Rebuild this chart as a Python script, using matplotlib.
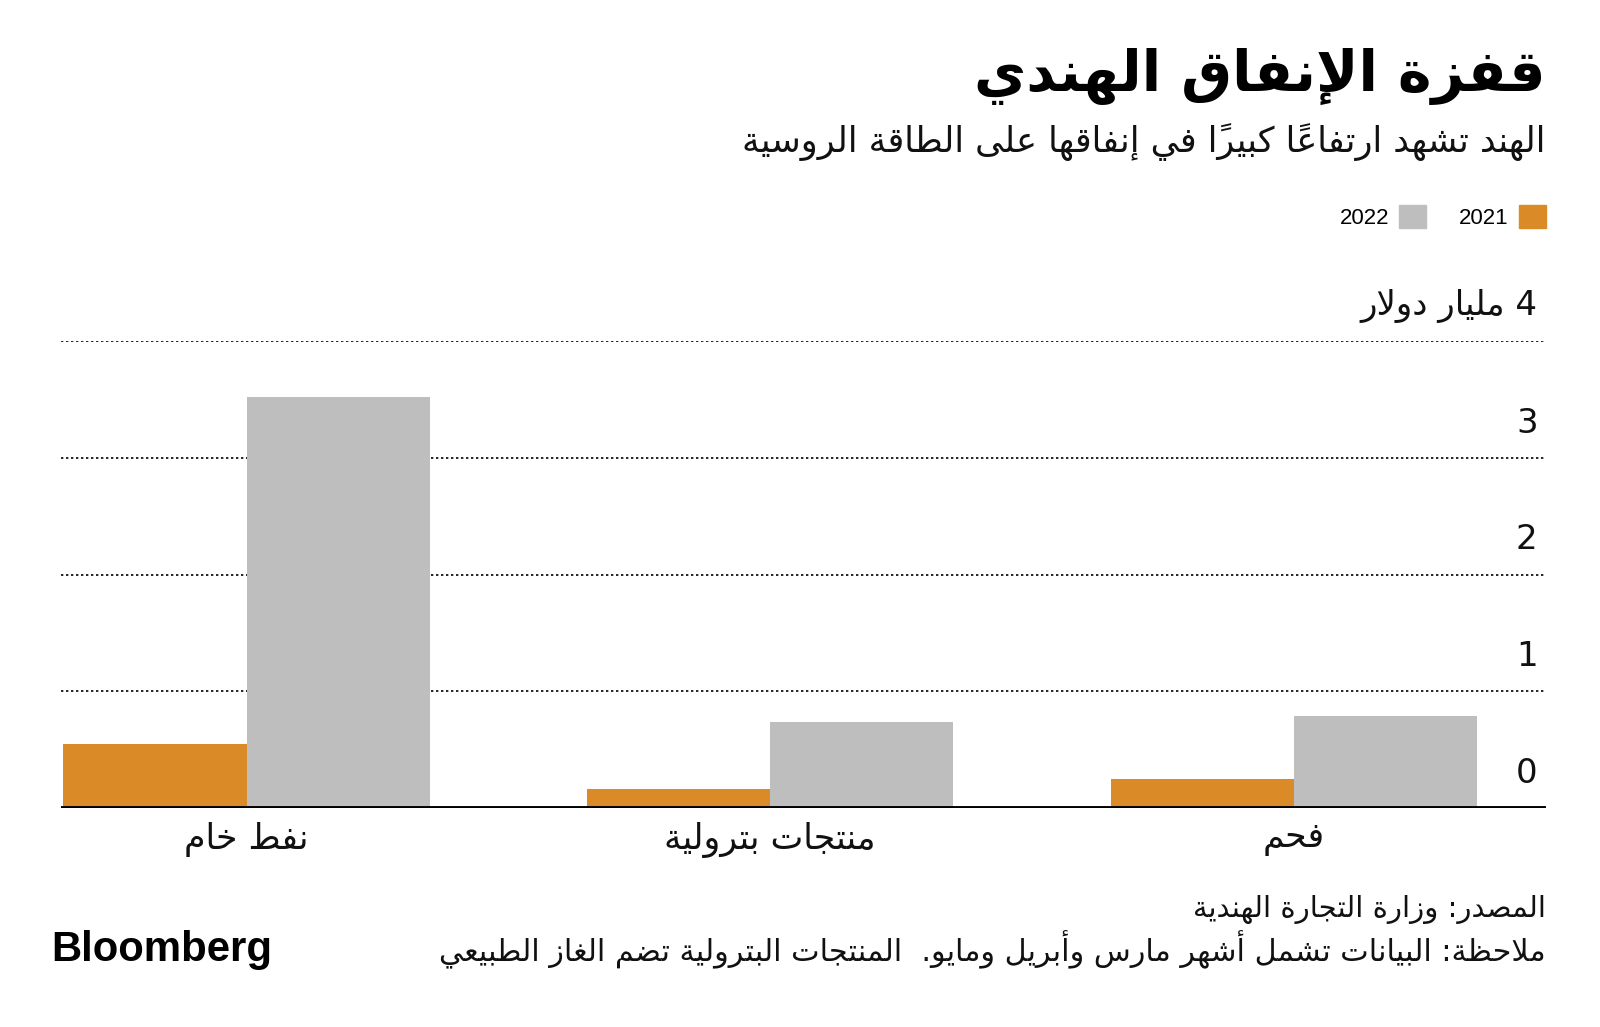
import matplotlib
matplotlib.use("Agg")
import matplotlib.pyplot as plt
from matplotlib.patches import Patch
from matplotlib.transforms import blended_transform_factory

# ---------------- data ----------------
categories = ["نفط خام", "منتجات بترولية", "فحم"]
series_names = ["2021", "2022"]
values_2021 = [0.55, 0.16, 0.25]
values_2022 = [3.52, 0.74, 0.79]
y_ticks = [0, 1, 2, 3, 4]
y_tick_labels = ["0", "1", "2", "3", "4 مليار دولار"]
title = "قفزة الإنفاق الهندي"
subtitle = "الهند تشهد ارتفاعاً كبيراً في إنفاقها على الطاقة الروسية"
source = "المصدر: وزارة التجارة الهندية"
note = "ملاحظة: البيانات تشمل أشهر مارس وأبريل ومايو.  المنتجات البترولية تضم الغاز الطبيعي"
logo = "Bloomberg"

# ---------------- Arabic shaping (contextual forms + RTL visual order) ----------------
DUAL = {'ئ': 0xFE89, 'ب': 0xFE8F, 'ت': 0xFE95, 'ث': 0xFE99, 'ج': 0xFE9D, 'ح': 0xFEA1,
        'خ': 0xFEA5, 'س': 0xFEB1, 'ش': 0xFEB5, 'ص': 0xFEB9, 'ض': 0xFEBD, 'ط': 0xFEC1,
        'ظ': 0xFEC5, 'ع': 0xFEC9, 'غ': 0xFECD, 'ف': 0xFED1, 'ق': 0xFED5, 'ك': 0xFED9,
        'ل': 0xFEDD, 'م': 0xFEE1, 'ن': 0xFEE5, 'ه': 0xFEE9, 'ي': 0xFEF1}
RIGHT = {'آ': 0xFE81, 'أ': 0xFE83, 'ؤ': 0xFE85, 'إ': 0xFE87, 'ا': 0xFE8D, 'ة': 0xFE93,
         'د': 0xFEA9, 'ذ': 0xFEAB, 'ر': 0xFEAD, 'ز': 0xFEAF, 'و': 0xFEED, 'ى': 0xFEEF}
NONJ = {'ء': 0xFE80}
LAMALEF = {'آ': 0xFEF5, 'أ': 0xFEF7, 'إ': 0xFEF9, 'ا': 0xFEFB}
HARAKAT = set(chr(c) for c in range(0x064B, 0x0653))


def shape(s):
    units = []
    i = 0
    while i < len(s):
        c = s[i]
        if c in HARAKAT and units:
            units[-1]['marks'] += c
            i += 1
            continue
        if c == 'ل':
            j = i + 1
            marks = ''
            while j < len(s) and s[j] in HARAKAT:
                marks += s[j]
                j += 1
            if j < len(s) and s[j] in LAMALEF:
                units.append({'t': 'R', 'base': LAMALEF[s[j]], 'marks': marks})
                i = j + 1
                continue
        if c in DUAL:
            units.append({'t': 'D', 'base': DUAL[c], 'marks': ''})
        elif c in RIGHT:
            units.append({'t': 'R', 'base': RIGHT[c], 'marks': ''})
        elif c in NONJ:
            units.append({'t': 'U', 'base': NONJ[c], 'marks': ''})
        else:
            units.append({'t': 'X', 'ch': c, 'marks': ''})
        i += 1
    clusters = []
    for k, u in enumerate(units):
        if u['t'] == 'X':
            clusters.append((u['ch'] + u['marks'], u['ch'].isascii() and u['ch'].isalnum()))
            continue
        if u['t'] == 'U':
            clusters.append((chr(u['base']) + u['marks'], False))
            continue
        prev = units[k - 1] if k > 0 else None
        nxt = units[k + 1] if k + 1 < len(units) else None
        pc = prev is not None and prev['t'] == 'D'
        nc = u['t'] == 'D' and nxt is not None and nxt['t'] in ('D', 'R')
        off = 3 if (pc and nc) else 1 if pc else 2 if nc else 0
        clusters.append((chr(u['base'] + off) + u['marks'], False))
    segs = []
    for txt, ltr in clusters:
        if ltr and segs and segs[-1][1]:
            segs[-1][0] += txt
        else:
            segs.append([txt, ltr])
    return ''.join(t for t, _ in reversed(segs))


# ---------------- figure ----------------
AR = ['DejaVu Sans']
LAT = ['Liberation Sans', 'DejaVu Sans']
C2021 = '#DA8A26'
C2022 = '#BEBEBE'

fig = plt.figure(figsize=(16, 10.27), dpi=100)
fig.patch.set_facecolor('white')
ax = fig.add_axes([0.038, 0.2132, 0.928, 0.4547])

x = list(range(len(categories)))
w = 0.35
ax.bar([v - w / 2 for v in x], values_2021, width=w, color=C2021, zorder=2, linewidth=0)
ax.bar([v + w / 2 for v in x], values_2022, width=w, color=C2022, zorder=2, linewidth=0)

ax.set_xlim(-0.355, 2.481)
ax.set_ylim(0, 4)
for s in ax.spines.values():
    s.set_visible(False)
ax.axhline(0, color='black', lw=2.8, zorder=3)
ax.set_yticks(y_ticks)
ax.set_yticklabels([])
ax.tick_params(axis='y', length=0)
for t in y_ticks[1:]:
    ax.axhline(t, color='black', lw=1.2, ls=(0, (1.4, 1.6)), zorder=1)

trans = blended_transform_factory(ax.transAxes, ax.transData)
for t, lab in zip(y_ticks, y_tick_labels):
    ax.annotate(shape(lab), xy=(0.9946, t), xycoords=trans, xytext=(0, 25),
                textcoords='offset points', ha='right', va='center',
                fontsize=24.5, family=AR, color='#111111')

ax.set_xticks(x)
ax.set_xticklabels([shape(c) for c in categories], fontsize=25, family=AR, color='#111111')
ax.tick_params(axis='x', length=0, pad=10)

# legend (RTL: text to the left of the swatch)
handles = [Patch(color=C2022, label=series_names[1]), Patch(color=C2021, label=series_names[0])]
fig.legend(handles=handles, loc='center right', bbox_to_anchor=(0.966, 0.7887),
           ncol=2, frameon=False, markerfirst=False, prop={'family': LAT, 'size': 16},
           handlelength=1.2, handleheight=1.2, handletextpad=0.45, columnspacing=1.5,
           borderaxespad=0, borderpad=0)

# titles
fig.text(0.966, 1 - 76 / 1027, shape(title), ha='right', va='center', fontsize=41,
         fontweight='bold', family=AR, color='black')
fig.text(0.966, 1 - 142 / 1027, shape(subtitle), ha='right', va='center', fontsize=25.3,
         family=AR, color='#111111')

# footer
fig.text(0.966, 1 - 909 / 1027, shape(source), ha='right', va='center', fontsize=21,
         family=AR, color='#111111')
fig.text(0.966, 1 - 950 / 1027, shape(note), ha='right', va='center', fontsize=21.75,
         family=AR, color='#111111')
fig.text(51 / 1600, 1 - 950 / 1027, logo, ha='left', va='center', fontsize=30.2,
         fontweight='bold', family=LAT, color='black')

fig.savefig('out.png', dpi=100, facecolor='white')
